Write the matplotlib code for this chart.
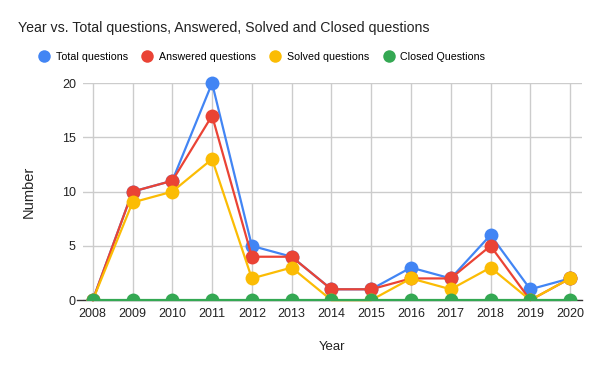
import matplotlib.pyplot as plt
from matplotlib.lines import Line2D
from matplotlib.patches import Rectangle

years = list(range(2008, 2021))
total = [0, 10, 11, 20, 5, 4, 1, 1, 3, 2, 6, 1, 2]
answered = [0, 10, 11, 17, 4, 4, 1, 1, 2, 2, 5, 0, 2]
solved = [0, 9, 10, 13, 2, 3, 0, 0, 2, 1, 3, 0, 2]
closed = [0, 0, 0, 0, 0, 0, 0, 0, 0, 0, 0, 0, 0]

series = [
    ("Total questions", total, "#4285F4"),
    ("Answered questions", answered, "#EA4335"),
    ("Solved questions", solved, "#FBBC04"),
    ("Closed Questions", closed, "#34A853"),
]

plt.rcParams["font.family"] = ["Liberation Sans", "DejaVu Sans"]

fig = plt.figure(figsize=(6, 3.71), dpi=100)
ax = fig.add_axes([0.138, 0.191, 0.832, 0.585])

# dark baseline under the series, sticking out a bit on the left
ax.plot([-0.012, 1], [0, 0], transform=ax.transAxes, color="#333333",
        linewidth=1, clip_on=False, zorder=2)

# markers get cut at the baseline, but not at the top
clip = Rectangle((-0.05, 0), 1.1, 1.2, transform=ax.transAxes,
                 fill=False, visible=False)
ax.add_patch(clip)
for name, vals, color in series:
    ax.plot(years, vals, color=color, linewidth=1.6, clip_on=False, zorder=3)
    pts, = ax.plot(years, vals, color=color, linestyle="none", marker="o",
                   markersize=10, markeredgewidth=0, zorder=3)
    pts.set_clip_path(clip)

ax.set_xlim(2007.75, 2020.3)
ax.set_ylim(0, 20)
ax.set_xticks(years)
ax.set_yticks([0, 5, 10, 15, 20])
ax.grid(True, color="#cccccc", linewidth=1)
ax.set_axisbelow(True)
for s in ax.spines.values():
    s.set_visible(False)
ax.tick_params(length=0, labelsize=9, colors="#222222")
ax.tick_params(axis="x", pad=6)
ax.tick_params(axis="y", pad=5)

ax.set_xlabel("Year", fontsize=9.5, color="#222222", labelpad=15)
ax.set_ylabel("Number", fontsize=10.5, color="#222222", labelpad=19)

fig.text(0.03, 0.925, "Year vs. Total questions, Answered, Solved and Closed questions",
         fontsize=10.2, color="#222222", va="center")

handles = [Line2D([], [], linestyle="none", marker="o", markersize=9,
                  markeredgewidth=0, color=c) for _, _, c in series]
fig.legend(handles, [n for n, _, _ in series], loc="center", ncol=4,
           bbox_to_anchor=(0.436, 0.847), frameon=False, fontsize=7.7,
           handletextpad=0.5, columnspacing=1.2, handlelength=1.2)

fig.savefig("out.png", dpi=100)
